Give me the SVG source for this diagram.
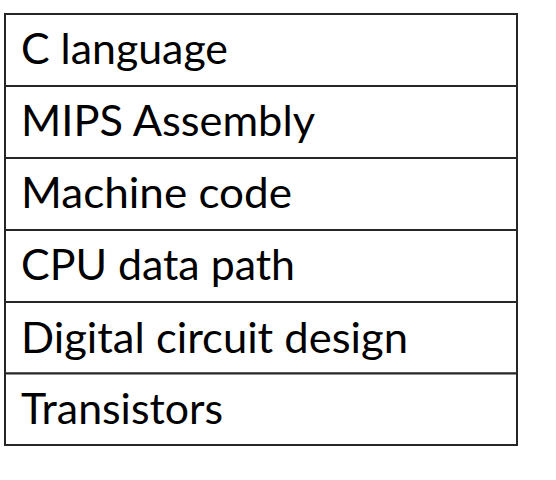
<svg xmlns="http://www.w3.org/2000/svg" width="556" height="480" viewBox="0 0 556 480">
  <style>
    .cell { fill: #ffffff; stroke: #262626; stroke-width: 2; }
    .label { font-family: Lato, "Open Sans", "Liberation Sans", sans-serif; font-size: 42px; fill: #000000; }
  </style>
  <rect width="556" height="480" fill="#ffffff"/>
  <!-- abstraction layers, top to bottom -->
  <g id="c-language">
    <rect class="cell" x="5" y="14" width="512" height="72"/>
    <text class="label" x="21" y="64" textLength="207" lengthAdjust="spacingAndGlyphs">C language</text>
  </g>
  <g id="mips-assembly">
    <rect class="cell" x="5" y="86" width="512" height="72"/>
    <text class="label" x="21" y="136" textLength="294" lengthAdjust="spacingAndGlyphs">MIPS Assembly</text>
  </g>
  <g id="machine-code">
    <rect class="cell" x="5" y="158" width="512" height="72"/>
    <text class="label" x="21" y="208" textLength="271" lengthAdjust="spacingAndGlyphs">Machine code</text>
  </g>
  <g id="cpu-data-path">
    <rect class="cell" x="5" y="230" width="512" height="72"/>
    <text class="label" x="21" y="280" textLength="274" lengthAdjust="spacingAndGlyphs">CPU data path</text>
  </g>
  <g id="digital-circuit-design">
    <rect class="cell" x="5" y="302" width="512" height="71.5"/>
    <text class="label" x="21" y="353" textLength="387" lengthAdjust="spacingAndGlyphs">Digital circuit design</text>
  </g>
  <g id="transistors">
    <rect class="cell" x="5" y="373.5" width="512" height="71.5"/>
    <text class="label" x="21" y="424" textLength="202" lengthAdjust="spacingAndGlyphs">Transistors</text>
  </g>
  <g id="connectors"/>
</svg>
